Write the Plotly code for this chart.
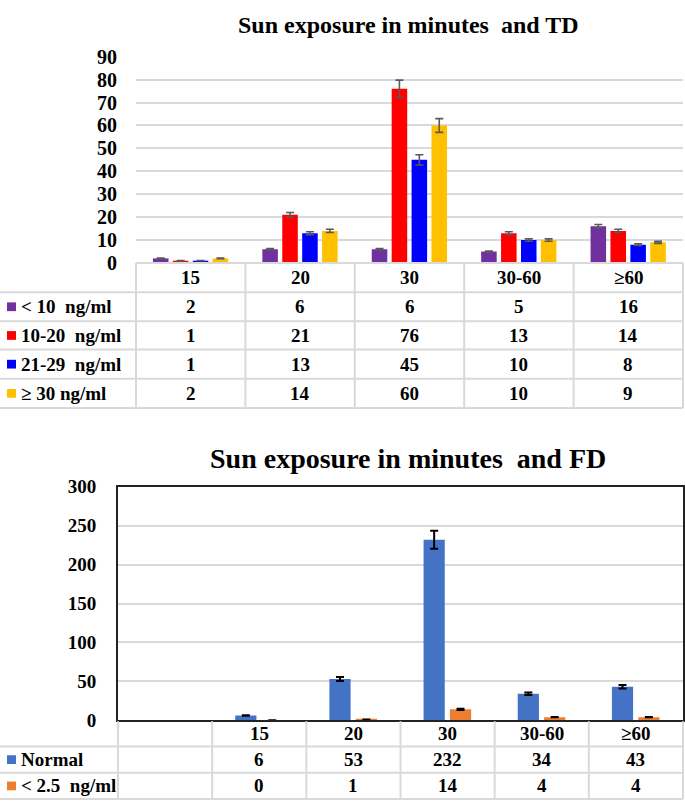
import plotly.graph_objects as go

# ---------------- data ----------------
categories = ["15", "20", "30", "30-60", "≥60"]

td_names = ["< 10\u00a0 ng/ml", "10-20\u00a0 ng/ml", "21-29\u00a0 ng/ml", "≥ 30 ng/ml"]
td_lt10 = [2, 6, 6, 5, 16]
td_10_20 = [1, 21, 76, 13, 14]
td_21_29 = [1, 13, 45, 10, 8]
td_ge30 = [2, 14, 60, 10, 9]

fd_names = ["Normal", "< 2.5\u00a0 ng/ml"]
fd_normal = [6, 53, 232, 34, 43]
fd_lt25 = [0, 1, 14, 4, 4]

td_title = "Sun exposure in minutes\u00a0 and TD"
fd_title = "Sun exposure in minutes\u00a0 and FD"

# ---------------- styling ----------------
W, H = 685, 812
FONT = "Liberation Serif"
GRID = "#d9d9d9"
td_colors = ["#7030A0", "#FF0000", "#0000FF", "#FFC000"]
fd_colors = ["#4472C4", "#ED7D31"]


def px(x):
    return x / W


def py(y):
    return 1 - y / H


fig = go.Figure()

# ---------------- top chart (TD) ----------------
td_series = [td_lt10, td_10_20, td_21_29, td_ge30]
td_offsets = [-0.345, -0.163, 0.019, 0.201]
xs = list(range(len(categories)))
for name, vals, col, off in zip(td_names, td_series, td_colors, td_offsets):
    fig.add_trace(go.Bar(
        x=xs, y=vals, name=name, marker=dict(color=col, line=dict(width=0)),
        width=0.142, offset=off,
        error_y=dict(type="percent", value=5, color="#595959", thickness=1.6, width=4),
        xaxis="x", yaxis="y", showlegend=False,
    ))

# ---------------- bottom chart (FD) ----------------
fd_series = [fd_normal, fd_lt25]
fd_offsets = [-0.255, 0.025]
xs2 = [i + 1 for i in range(len(categories))]
for name, vals, col, off in zip(fd_names, fd_series, fd_colors, fd_offsets):
    fig.add_trace(go.Bar(
        x=xs2, y=vals, name=name, marker=dict(color=col, line=dict(width=0)),
        width=0.225, offset=off,
        error_y=dict(type="percent", value=5, color="#000000", thickness=2, width=4),
        xaxis="x2", yaxis="y2", showlegend=False,
    ))

# geometry (pixels)
T_LEFT, T_RIGHT, T_ZERO, T_TOP = 136, 683, 259, 47
B_LEFT, B_RIGHT, B_ZERO, B_TOP = 118, 683, 729, 489

fig.update_layout(
    width=W, height=H, margin=dict(l=0, r=0, t=0, b=0),
    paper_bgcolor="white", plot_bgcolor="white",
    barmode="overlay",
    font=dict(family=FONT, color="#000000"),
    xaxis=dict(domain=[px(T_LEFT), px(T_RIGHT)], range=[-0.5, len(categories) - 0.5],
               showticklabels=False, showgrid=False, zeroline=False, showline=False,
               fixedrange=True),
    yaxis=dict(domain=[py(T_ZERO), py(T_TOP)], range=[0, 90], dtick=10,
               showgrid=True, gridcolor=GRID, gridwidth=2, zeroline=False, showline=False,
               tickfont=dict(family=FONT, size=20, color="#000000", weight="bold"),
               ticks="", ticklabelstandoff=18, anchor="x"),
    xaxis2=dict(domain=[px(B_LEFT), px(B_RIGHT)], range=[-0.5, len(categories) + 0.5],
                showticklabels=False, showgrid=False, zeroline=False,
                showline=True, linecolor="#222222", linewidth=2, mirror=True,
                anchor="y2", fixedrange=True),
    yaxis2=dict(domain=[py(B_ZERO), py(B_TOP)], range=[0, 300], dtick=50,
                showgrid=True, gridcolor=GRID, gridwidth=2, zeroline=False,
                showline=True, linecolor="#222222", linewidth=2, mirror=True,
                tickfont=dict(family=FONT, size=19, color="#000000", weight="bold"),
                ticks="", ticklabelstandoff=16, anchor="x2"),
)

annotations = []
shapes = []

# titles
annotations.append(dict(text=f"<b>{td_title}</b>", x=px(408), y=py(14), xref="paper", yref="paper",
                        showarrow=False, font=dict(family=FONT, size=24, color="#000000"),
                        xanchor="center", yanchor="middle"))
annotations.append(dict(text=f"<b>{fd_title}</b>", x=px(408), y=py(460), xref="paper", yref="paper",
                        showarrow=False, font=dict(family=FONT, size=28, color="#000000"),
                        xanchor="center", yanchor="middle"))


def hline(x0, x1, y, color=GRID, w=2):
    shapes.append(dict(type="line", xref="paper", yref="paper", x0=px(x0), x1=px(x1),
                       y0=py(y), y1=py(y), line=dict(color=color, width=w)))


def vline(x, y0, y1, color=GRID, w=2):
    shapes.append(dict(type="line", xref="paper", yref="paper", x0=px(x), x1=px(x),
                       y0=py(y0), y1=py(y1), line=dict(color=color, width=w)))


def cell_text(txt, x, y, anchor="center", size=19):
    annotations.append(dict(text=f"<b>{txt}</b>", x=px(x), y=py(y), xref="paper", yref="paper",
                            showarrow=False, xanchor=anchor, yanchor="middle",
                            font=dict(family=FONT, size=size, color="#000000")))


def key(color, x, y):
    shapes.append(dict(type="rect", xref="paper", yref="paper", x0=px(x), x1=px(x + 9),
                       y0=py(y + 4.5), y1=py(y - 4.5), fillcolor=color, line=dict(width=0)))


# ---------------- top table ----------------
n = len(categories)
colw = (T_RIGHT - T_LEFT) / n
row_edges = [259, 289, 319, 348, 378, 408]
hline(T_LEFT, T_RIGHT, row_edges[0])
for yy in row_edges[1:]:
    hline(0, T_RIGHT, yy)
for i in range(n + 1):
    vline(T_LEFT + i * colw, row_edges[0], row_edges[-1])
for i, c in enumerate(categories):
    cell_text(c, T_LEFT + (i + 0.5) * colw, (row_edges[0] + row_edges[1]) / 2)
for r, (name, vals, col) in enumerate(zip(td_names, td_series, td_colors)):
    yc = (row_edges[r + 1] + row_edges[r + 2]) / 2
    key(col, 7, yc)
    cell_text(name, 19, yc, anchor="left")
    for i, v in enumerate(vals):
        cell_text(str(v), T_LEFT + (i + 0.5) * colw, yc)

# ---------------- bottom table ----------------
colw2 = (B_RIGHT - B_LEFT) / (n + 1)
row_edges2 = [730, 756, 783, 810]
for yy in row_edges2[1:]:
    hline(0, B_RIGHT, yy)
for i in range(n + 2):
    vline(B_LEFT + i * colw2, row_edges2[0], row_edges2[-1])
for i, c in enumerate(categories):
    cell_text(c, B_LEFT + (i + 1.5) * colw2, (row_edges2[0] + row_edges2[1]) / 2)
for r, (name, vals, col) in enumerate(zip(fd_names, fd_series, fd_colors)):
    yc = (row_edges2[r + 1] + row_edges2[r + 2]) / 2
    key(col, 7, yc)
    cell_text(name, 19, yc, anchor="left")
    for i, v in enumerate(vals):
        cell_text(str(v), B_LEFT + (i + 1.5) * colw2, yc)

fig.update_layout(annotations=annotations, shapes=shapes)

fig.write_html("out.html",
               config={"displayModeBar": False},
               post_script="document.body.style.margin='0px';document.body.style.overflow='hidden';")
